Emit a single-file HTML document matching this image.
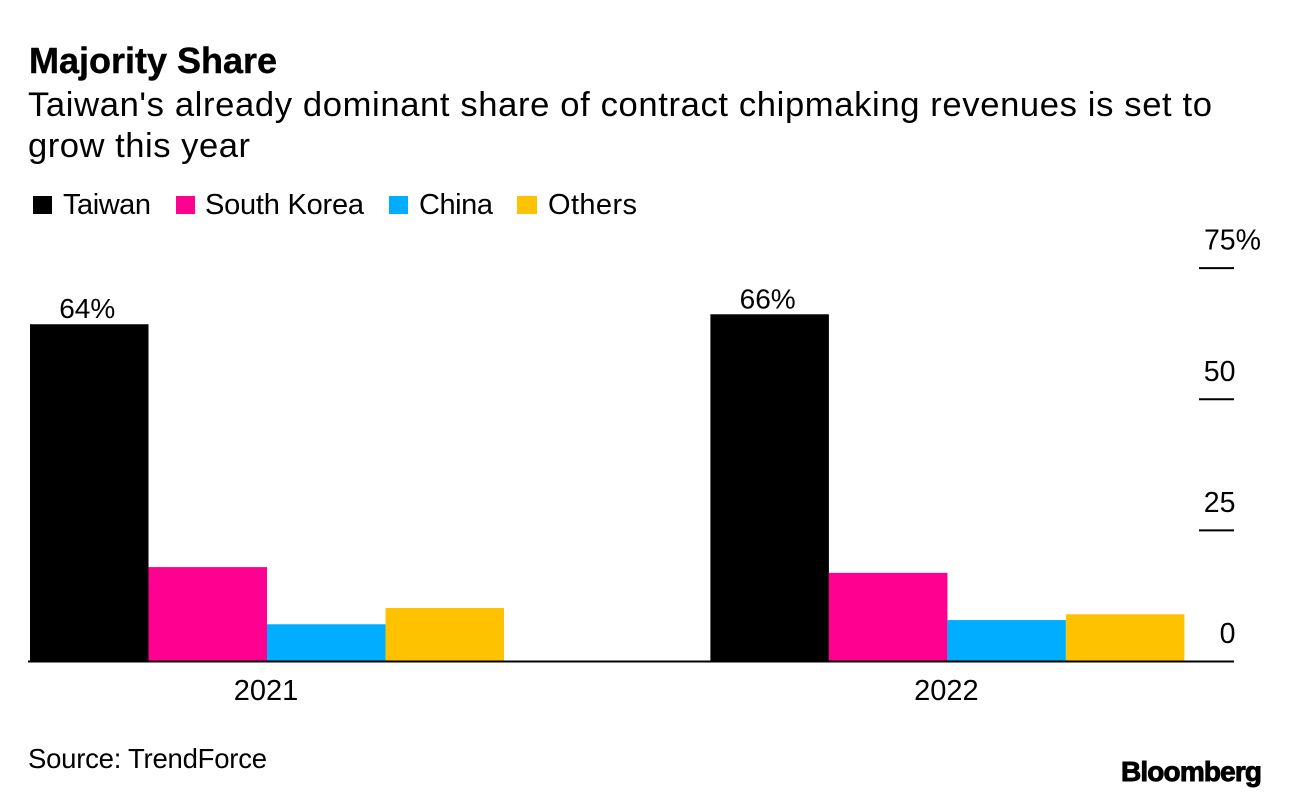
<!DOCTYPE html>
<html lang="en">
<head>
<meta charset="utf-8">
<title>Majority Share</title>
<style>
  html, body { margin: 0; padding: 0; background: #fff; }
  svg { display: block; font-family: "Liberation Sans", Arial, sans-serif; fill: #000; }
</style>
</head>
<body>
<svg id="chart" xmlns="http://www.w3.org/2000/svg" width="1289" height="798" viewBox="0 0 1289 798">
  <rect x="0" y="0" width="1289" height="798" fill="#fff"/>
  <text x="29" y="73" font-size="36" font-weight="700" textLength="248" stroke="#000" stroke-width="0.4">Majority Share</text>
  <text x="28" y="116" font-size="34.6" textLength="1184">Taiwan's already dominant share of contract chipmaking revenues is set to</text>
  <text x="28" y="157" font-size="34.6" textLength="222">grow this year</text>
  <g id="legend"></g>
  <g id="bars"></g>
  <g id="y-axis"></g>
  <g id="x-axis"></g>
  <text x="28" y="768" font-size="27.5" textLength="239">Source: TrendForce</text>
  <text x="1121" y="781" font-size="28" font-weight="700" textLength="141" stroke="#000" stroke-width="0.9">Bloomberg</text>
</svg>
<script>
const categories = ["2021", "2022"];
const seriesNames = ["Taiwan", "South Korea", "China", "Others"];
const seriesColors = ["#000000", "#ff0091", "#00adff", "#ffc200"];
const taiwanValues = [64.3, 66.2];
const southKoreaValues = [18, 16.9];
const chinaValues = [7.1, 7.9];
const othersValues = [10.2, 9];
const yTicks = [0, 25, 50, 75];
const yTickLabels = ["0", "25", "50", "75%"];

const NS = "http://www.w3.org/2000/svg";
const seriesValues = [taiwanValues, southKoreaValues, chinaValues, othersValues];

// Axis functions
const Y_ZERO = 661.5, Y_SCALE = 5.245;
const GROUP_START = 30, GROUP_STEP = 680.4, BAR_WIDTH = 118.5;
function yPos(v) { return Y_ZERO - v * Y_SCALE; }
function xPos(c, s) { return GROUP_START + c * GROUP_STEP + s * BAR_WIDTH; }

function svgEl(tag, parent, attrs, text) {
  const el = document.createElementNS(NS, tag);
  for (const k in attrs) el.setAttribute(k, attrs[k]);
  if (text !== undefined) el.textContent = text;
  parent.appendChild(el);
  return el;
}

// Legend
const legendLayout = [
  { sx: 33, sw: 19, tx: 63, tl: 88 },
  { sx: 176, sw: 19, tx: 205, tl: 159 },
  { sx: 389, sw: 19, tx: 419, tl: 74 },
  { sx: 517, sw: 20, tx: 548, tl: 89 }
];
const legendG = document.getElementById("legend");
seriesNames.forEach((name, i) => {
  const l = legendLayout[i];
  const swatch = svgEl("rect", legendG, { x: l.sx, y: 196, width: l.sw, height: 18, fill: seriesColors[i] });
  
  
  const label = svgEl("text", legendG, { x: l.tx, y: 214, "font-size": 29, textLength: l.tl }, name);
  
  
});

// Bars
const barsG = document.getElementById("bars");
categories.forEach((cat, c) => {
  seriesValues.forEach((vals, s) => {
    const top = yPos(vals[c]);
    const bar = svgEl("rect", barsG, {
      x: xPos(c, s), y: top, width: BAR_WIDTH, height: Y_ZERO - top, fill: seriesColors[s]
    });
    
    
  });
  const v = taiwanValues[c];
  const valueLabel = svgEl("text", barsG, {
    x: xPos(c, 0) + BAR_WIDTH / 2 - 2, y: yPos(v) - 6, "font-size": 28, "text-anchor": "middle"
  }, Math.round(v) + "%");
  
  
});

// Y axis
const yG = document.getElementById("y-axis");
yTicks.forEach((t, i) => {
  const y = yPos(t);
  if (t !== 0) {
    const tick = svgEl("line", yG, { x1: 1199, x2: 1234, y1: y, y2: y, stroke: "#000", "stroke-width": 2 });
    
    
  }
  const isPct = yTickLabels[i].includes("%");
  const label = svgEl("text", yG, {
    x: isPct ? 1261 : 1235.5, y: y - 18.5, "font-size": 28.5, "text-anchor": "end"
  }, yTickLabels[i]);
  
  
});

// X axis
const xG = document.getElementById("x-axis");
const baseline = svgEl("line", xG, { x1: 28, x2: 1234, y1: Y_ZERO, y2: Y_ZERO, stroke: "#000", "stroke-width": 2 });


categories.forEach((cat, c) => {
  const label = svgEl("text", xG, {
    x: xPos(c, 2) - 1, y: 700, "font-size": 29, "text-anchor": "middle"
  }, cat);
  
  
});
</script>
</body>
</html>
